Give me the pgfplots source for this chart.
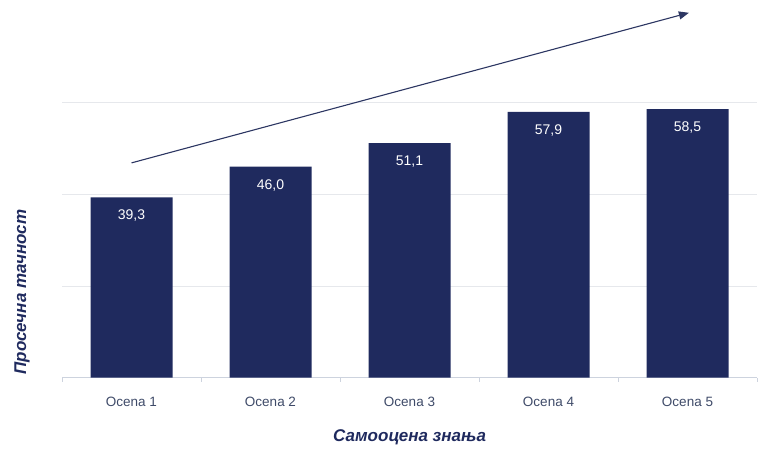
\documentclass[border=0pt]{standalone}
\usepackage{pgfplots}
\pgfplotsset{compat=1.18}
\usetikzlibrary{arrows.meta}
\usepackage{fontspec}
\setmainfont{Liberation Sans}
\definecolor{navy}{HTML}{1F2A5E}
\definecolor{ticktxt}{HTML}{3E4A68}
\definecolor{gridc}{HTML}{E6E8EC}
\definecolor{basec}{HTML}{CDD3DE}
\definecolor{arrowc}{HTML}{2C3662}
\begin{document}
\begin{tikzpicture}
\path[use as bounding box] (0,0) rectangle (759pt,450pt);
\begin{axis}[
  at={(62pt,72.3pt)}, anchor=south west, scale only axis,
  width=695pt, height=298.35pt,
  xmin=-0.5, xmax=4.5, ymin=0, ymax=65,
  clip=false,
  ybar, bar width=82pt,
  axis x line*=bottom, axis y line*=left,
  x axis line style={basec, line width=0.8pt, -},
  y axis line style={draw=none},
  ytick={20,40,60}, yticklabels={}, ytick style={draw=none},
  ymajorgrids, grid style={gridc, line width=0.8pt},
  xtick={0,1,2,3,4},
  xticklabels={Ocena 1,Ocena 2,Ocena 3,Ocena 4,Ocena 5},
  major x tick style={draw=none},
  minor xtick={-0.5,0.5,1.5,2.5,3.5,4.5},
  minor x tick style={basec, line width=0.6pt},
  tick align=outside, minor tick length=4pt,
  xticklabel style={font=\fontsize{13.5}{16}\selectfont, text=ticktxt, anchor=base, yshift=-25pt},
  xlabel={Самооцена знања},
  ylabel={Просечна тачност},
  xlabel style={at={(axis description cs:0.5,-0.201)}, anchor=center, font=\fontsize{17}{20}\selectfont\bfseries\itshape, text=navy},
  ylabel style={at={(axis description cs:-0.0576,0.287)}, anchor=center, font=\fontsize{17}{20}\selectfont\bfseries\itshape, text=navy},
  nodes near coords, point meta=explicit symbolic,
  nodes near coords style={text=white, font=\fontsize{14}{16}\selectfont, anchor=base, yshift=-22.5pt},
]
\addplot[fill=navy, draw=none] table[x=x, y=y, meta=lab] {
x y lab
0 39.3 39,3
1 46.0 46,0
2 51.1 51,1
3 57.9 57,9
4 58.5 58,5
};
\draw[arrowc, line width=1.1pt, -{Triangle[length=10pt,width=8pt]}] (axis cs:0,46.8) -- (axis cs:4.01,79.5);
\end{axis}
\end{tikzpicture}
\end{document}
